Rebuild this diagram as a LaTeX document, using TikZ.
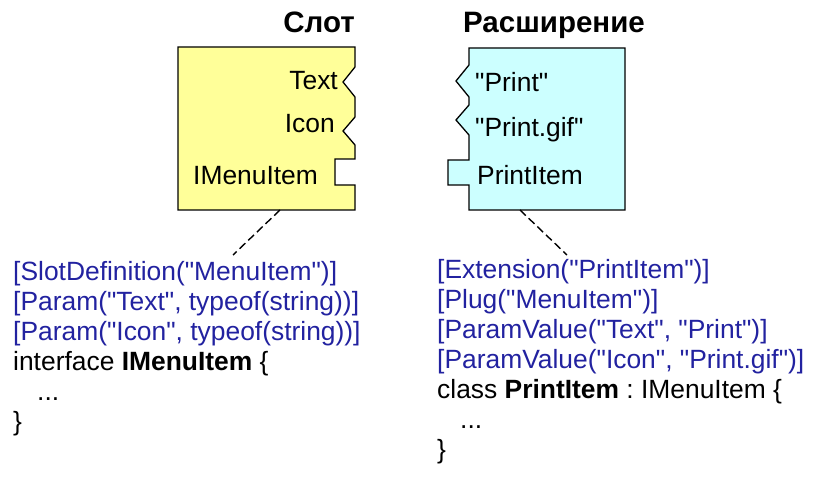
\documentclass[tikz,border=0pt]{standalone}
\usepackage{fontspec}
\setmainfont{Liberation Sans}[Ligatures=TeXOff]
\frenchspacing
\definecolor{slotyellow}{RGB}{255,255,153}
\definecolor{extcyan}{RGB}{204,255,255}
\definecolor{attrblue}{RGB}{34,34,160}
\begin{document}
\begin{tikzpicture}[
  x=1pt, y=-1pt,
  title/.style={font=\fontsize{29.5}{33}\selectfont\bfseries, inner sep=0pt},
  port/.style={font=\fontsize{26.4}{30}\selectfont, inner sep=0pt},
  code/.style={font=\fontsize{26.4}{30}\selectfont, inner sep=0pt, align=left, anchor=base west},
  outline/.style={draw=black, line width=1.3pt, line join=miter},
  tie/.style={draw=black, line width=1.4pt, dash pattern=on 8pt off 4pt}
]
\useasboundingbox (0,0) rectangle (820,484);

% slot box
\path[outline, fill=slotyellow] (178,47) -- (355,47) -- (355,67) -- (343,82) -- (355,97)
  -- (355,117) -- (343,131) -- (355,145) -- (355,159) -- (335,159) -- (335,185)
  -- (355,185) -- (355,210) -- (178,210) -- cycle;
% extension box
\path[outline, fill=extcyan] (469,48) -- (625,48) -- (625,210) -- (469,210) -- (469,185)
  -- (448,185) -- (448,160) -- (469,160) -- (469,135) -- (456,120) -- (469,105)
  -- (469,97) -- (456,81) -- (469,65) -- cycle;

\node (slottitle) [title, anchor=base east] at (355,33) {Слот};
\node (exttitle) [title, anchor=base west] at (463,33) {Расширение};

\node (text) [port, anchor=base east] at (338,90) {Text};
\node (icon) [port, anchor=base east] at (335,133) {Icon};
\node (imenu) [port, anchor=base west] at (193,185) {IMenuItem};
\node (print) [port, anchor=base west] at (475,92) {"Print"};
\node (printgif) [port, anchor=base west] at (475,137) {"Print.gif"};
\node (printitem) [port, anchor=base west] at (477,185) {PrintItem};

% code blocks, placed by the baseline of their last line
\node (slotcode) [code] at (13,430) {\textcolor{attrblue}{[SlotDefinition("MenuItem")]}\\
  \textcolor{attrblue}{[Param("Text", typeof(string))]}\\
  \textcolor{attrblue}{[Param("Icon", typeof(string))]}\\
  interface \textbf{IMenuItem} \{\\
  \hspace*{24pt}...\\
  \}};
\node (extcode) [code] at (437,458) {\textcolor{attrblue}{[Extension("PrintItem")]}\\
  \textcolor{attrblue}{[Plug("MenuItem")]}\\
  \textcolor{attrblue}{[ParamValue("Text", "Print")]}\\
  \textcolor{attrblue}{[ParamValue("Icon", "Print.gif")]}\\
  class \textbf{PrintItem} : IMenuItem \{\\
  \hspace*{23pt}...\\
  \}};

\coordinate (slotfoot) at (280,210);
\coordinate (slotcodetop) at (233,255);
\coordinate (extfoot) at (520,210);
\coordinate (extcodetop) at (567,255);
\draw[tie] (slotfoot) -- (slotcodetop);
\draw[tie] (extfoot) -- (extcodetop);
\end{tikzpicture}
\end{document}
